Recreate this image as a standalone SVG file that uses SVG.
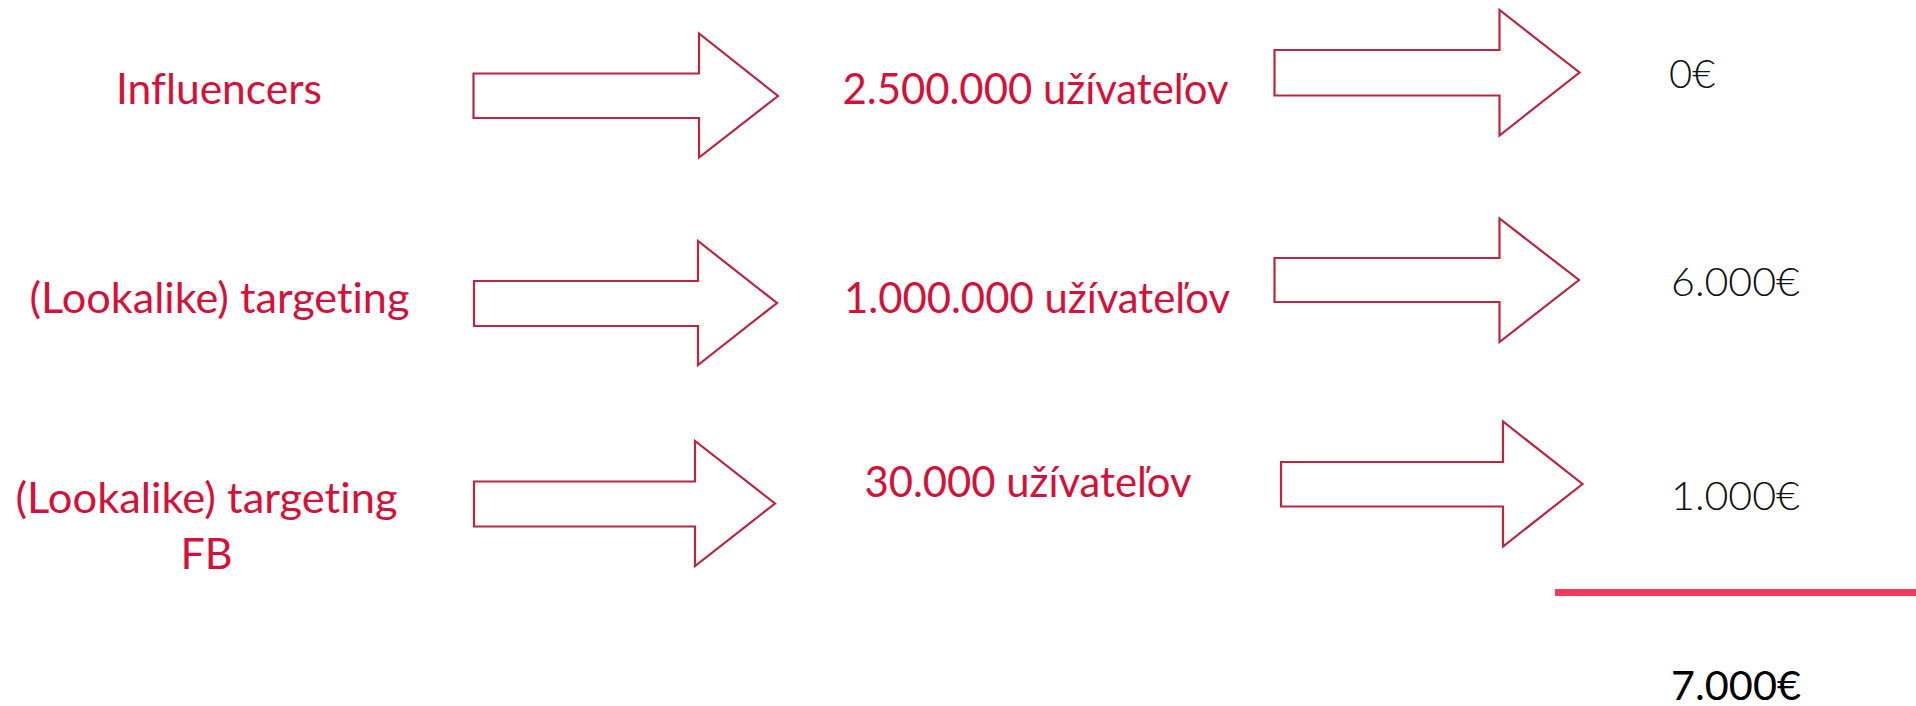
<svg xmlns="http://www.w3.org/2000/svg" width="1916" height="706" viewBox="0 0 1916 706">
<style>
.bg{fill:#ffffff}
.arr{fill:#ffffff;stroke:#B8263F;stroke-width:2.2;stroke-linejoin:miter}
text{font-variant-ligatures:none}
.red{font-family:Lato,"Open Sans","Liberation Sans",sans-serif;font-size:43px;fill:#D3113A}
.blk{font-family:Lato,"Open Sans","Liberation Sans",sans-serif;font-size:40px;font-weight:300;fill:#111111}
.blk2{font-family:Lato,"Open Sans","Liberation Sans",sans-serif;font-size:41px;font-weight:400;fill:#000000}
</style>
<rect class="bg" x="0" y="0" width="1916" height="706"/>
<g id="connectors">
<polygon id="a1" class="arr" points="473.5,73.5 699,73.5 699,33.5 778,96 699,157.5 699,118 473.5,118"/>
<polygon id="a2" class="arr" points="474,281 698,281 698,241 777,303 698,365 698,326 474,326"/>
<polygon id="a3" class="arr" points="474,481.5 695,481.5 695,441 775,503.5 695,566 695,526.5 474,526.5"/>
<polygon id="b1" class="arr" points="1274.5,50 1499.5,50 1499.5,10 1579.5,72.5 1499.5,135.5 1499.5,95.5 1274.5,95.5"/>
<polygon id="b2" class="arr" points="1274.5,258 1499.5,258 1499.5,218.5 1579,280 1499.5,342 1499.5,302 1274.5,302"/>
<polygon id="b3" class="arr" points="1281,462 1503,462 1503,421.5 1582.5,484 1503,546.5 1503,506.5 1281,506.5"/>
</g>
<g id="n-influencers"><text class="red" x="219" y="104" text-anchor="middle" textLength="206" lengthAdjust="spacingAndGlyphs">Influencers</text></g>
<g id="n-lookalike"><text class="red" x="219.5" y="313" text-anchor="middle" textLength="380" lengthAdjust="spacingAndGlyphs">(Lookalike) targeting</text></g>
<g id="n-lookalike-fb">
<text class="red" x="206.5" y="513" text-anchor="middle" textLength="382" lengthAdjust="spacingAndGlyphs">(Lookalike) targeting</text>
<text class="red" x="206.5" y="569" text-anchor="middle">FB</text>
</g>
<g id="n-users1"><text class="red" x="1035.5" y="104" text-anchor="middle" textLength="386" lengthAdjust="spacingAndGlyphs">2.500.000 užívateľov</text></g>
<g id="n-users2"><text class="red" x="1037" y="313" text-anchor="middle" textLength="386" lengthAdjust="spacingAndGlyphs">1.000.000 užívateľov</text></g>
<g id="n-users3"><text class="red" x="1028" y="497" text-anchor="middle" textLength="327" lengthAdjust="spacingAndGlyphs">30.000 užívateľov</text></g>
<g id="n-cost1"><text class="blk" x="1669" y="88">0€</text></g>
<g id="n-cost2"><text class="blk" x="1671" y="296" textLength="129" lengthAdjust="spacingAndGlyphs">6.000€</text></g>
<g id="n-cost3"><text class="blk" x="1671" y="510" textLength="129" lengthAdjust="spacingAndGlyphs">1.000€</text></g>
<g id="sum-line"><rect x="1555" y="589" width="361" height="7" fill="#EF3B5E"/></g>
<g id="n-total"><text class="blk2" x="1671" y="700" textLength="130" lengthAdjust="spacingAndGlyphs">7.000€</text></g>
</svg>
